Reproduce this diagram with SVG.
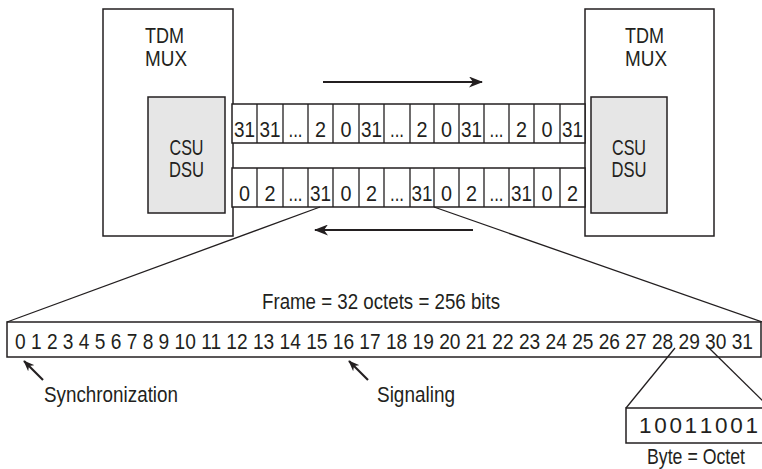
<svg xmlns="http://www.w3.org/2000/svg" width="762" height="469" viewBox="0 0 762 469">
<style>
text{font-family:"Liberation Sans Narrow","Liberation Sans",Arial,sans-serif;font-size:22.5px;fill:#231f20}
.c{text-anchor:middle}
.box{fill:#fff;stroke:#231f20;stroke-width:1.5}
.inner{fill:#e6e6e6;stroke:#231f20;stroke-width:1.5}
.ln{fill:none;stroke:#231f20;stroke-width:1.3}
.arr{fill:none;stroke:#231f20;stroke-width:2.2}
</style>
<defs>
<marker id="ah" viewBox="0 0 14 11" refX="13" refY="5.5" markerWidth="14" markerHeight="11" markerUnits="userSpaceOnUse" orient="auto">
<path d="M0,0 L14,5.5 L0,11 L4,5.5 Z" fill="#231f20"/>
</marker>
<marker id="ahs" viewBox="0 0 14 11" refX="13" refY="5.5" markerWidth="11" markerHeight="9" markerUnits="userSpaceOnUse" orient="auto">
<path d="M0,0 L14,5.5 L0,11 L4,5.5 Z" fill="#231f20"/>
</marker>
</defs>
<rect width="762" height="469" fill="#fff"/>

<g id="mux-left">
<rect class="box" x="103" y="9" width="130" height="227"/>
<text x="145" y="43" textLength="39" lengthAdjust="spacingAndGlyphs">TDM</text>
<text x="145" y="66" textLength="42" lengthAdjust="spacingAndGlyphs">MUX</text>
<rect class="inner" x="148" y="97" width="77" height="116"/>
<text class="c" x="186.5" y="155" textLength="34" lengthAdjust="spacingAndGlyphs">CSU</text>
<text class="c" x="186.5" y="177" textLength="35" lengthAdjust="spacingAndGlyphs">DSU</text>
</g>

<g id="mux-right">
<rect class="box" x="585" y="9" width="129" height="227"/>
<text x="625" y="43" textLength="39" lengthAdjust="spacingAndGlyphs">TDM</text>
<text x="625" y="66" textLength="42" lengthAdjust="spacingAndGlyphs">MUX</text>
<rect class="inner" x="591" y="97" width="76" height="116"/>
<text class="c" x="629" y="155" textLength="34" lengthAdjust="spacingAndGlyphs">CSU</text>
<text class="c" x="629" y="177" textLength="35" lengthAdjust="spacingAndGlyphs">DSU</text>
</g>

<g id="cells-top">
<rect class="box" x="232" y="104" width="353" height="39"/>
<path class="ln" stroke-width="1.5" d="M257,104V143M283,104V143M308,104V143M333,104V143M359,104V143M384,104V143M410,104V143M434,104V143M459,104V143M484,104V143M509,104V143M534,104V143M560,104V143"/>
<text class="c" x="244.5" y="137" textLength="21" lengthAdjust="spacingAndGlyphs">31</text>
<text class="c" x="270" y="137" textLength="21" lengthAdjust="spacingAndGlyphs">31</text>
<text class="c" x="295.5" y="137" textLength="14" lengthAdjust="spacingAndGlyphs">...</text>
<text class="c" x="320.5" y="137" textLength="11" lengthAdjust="spacingAndGlyphs">2</text>
<text class="c" x="346" y="137" textLength="11" lengthAdjust="spacingAndGlyphs">0</text>
<text class="c" x="371.5" y="137" textLength="21" lengthAdjust="spacingAndGlyphs">31</text>
<text class="c" x="397" y="137" textLength="14" lengthAdjust="spacingAndGlyphs">...</text>
<text class="c" x="422" y="137" textLength="11" lengthAdjust="spacingAndGlyphs">2</text>
<text class="c" x="446.5" y="137" textLength="11" lengthAdjust="spacingAndGlyphs">0</text>
<text class="c" x="471.5" y="137" textLength="21" lengthAdjust="spacingAndGlyphs">31</text>
<text class="c" x="496.5" y="137" textLength="14" lengthAdjust="spacingAndGlyphs">...</text>
<text class="c" x="521.5" y="137" textLength="11" lengthAdjust="spacingAndGlyphs">2</text>
<text class="c" x="547" y="137" textLength="11" lengthAdjust="spacingAndGlyphs">0</text>
<text class="c" x="572.5" y="137" textLength="21" lengthAdjust="spacingAndGlyphs">31</text>
</g>

<g id="cells-bottom">
<rect class="box" x="232" y="168" width="353" height="39"/>
<path class="ln" stroke-width="1.5" d="M257,168V207M283,168V207M308,168V207M333,168V207M359,168V207M384,168V207M410,168V207M434,168V207M459,168V207M484,168V207M509,168V207M534,168V207M560,168V207"/>
<text class="c" x="244.5" y="201" textLength="11" lengthAdjust="spacingAndGlyphs">0</text>
<text class="c" x="270" y="201" textLength="11" lengthAdjust="spacingAndGlyphs">2</text>
<text class="c" x="295.5" y="201" textLength="14" lengthAdjust="spacingAndGlyphs">...</text>
<text class="c" x="320.5" y="201" textLength="21" lengthAdjust="spacingAndGlyphs">31</text>
<text class="c" x="346" y="201" textLength="11" lengthAdjust="spacingAndGlyphs">0</text>
<text class="c" x="371.5" y="201" textLength="11" lengthAdjust="spacingAndGlyphs">2</text>
<text class="c" x="397" y="201" textLength="14" lengthAdjust="spacingAndGlyphs">...</text>
<text class="c" x="422" y="201" textLength="21" lengthAdjust="spacingAndGlyphs">31</text>
<text class="c" x="446.5" y="201" textLength="11" lengthAdjust="spacingAndGlyphs">0</text>
<text class="c" x="471.5" y="201" textLength="11" lengthAdjust="spacingAndGlyphs">2</text>
<text class="c" x="496.5" y="201" textLength="14" lengthAdjust="spacingAndGlyphs">...</text>
<text class="c" x="521.5" y="201" textLength="21" lengthAdjust="spacingAndGlyphs">31</text>
<text class="c" x="547" y="201" textLength="11" lengthAdjust="spacingAndGlyphs">0</text>
<text class="c" x="572.5" y="201" textLength="11" lengthAdjust="spacingAndGlyphs">2</text>
</g>

<g id="frame">
<text x="262" y="309" textLength="238" lengthAdjust="spacingAndGlyphs">Frame = 32 octets = 256 bits</text>
<rect class="box" x="7" y="322" width="754" height="35"/>
<text x="15" y="349" textLength="738" lengthAdjust="spacingAndGlyphs">0 1 2 3 4 5 6 7 8 9 10 11 12 13 14 15 16 17 18 19 20 21 22 23 24 25 26 27 28 29 30 31</text>
</g>

<g id="sync-label">
<text x="44" y="402" textLength="134" lengthAdjust="spacingAndGlyphs">Synchronization</text>
</g>
<g id="signal-label">
<text x="377" y="402" textLength="78" lengthAdjust="spacingAndGlyphs">Signaling</text>
</g>

<g id="byte">
<rect class="box" x="626" y="408" width="150" height="35"/>
<text x="639 654.2 669.4 684.6 699.8 715 730.2 745.4" y="433">10011001</text>
<text x="647" y="464" textLength="98" lengthAdjust="spacingAndGlyphs">Byte = Octet</text>
</g>

<g id="connectors">
<line class="arr" x1="323" y1="82" x2="482" y2="82" marker-end="url(#ah)"/>
<line class="arr" x1="473" y1="230" x2="315" y2="230" marker-end="url(#ah)"/>
<line class="ln" x1="7" y1="322" x2="320" y2="207"/>
<line class="ln" x1="434" y1="207" x2="762" y2="322"/>
<line class="ln" x1="675" y1="348" x2="626" y2="408"/>
<line class="ln" x1="708" y1="347" x2="770" y2="408"/>
<line class="arr" x1="43" y1="380" x2="24" y2="361" marker-end="url(#ahs)"/>
<line class="arr" x1="368" y1="380" x2="349" y2="361" marker-end="url(#ahs)"/>
</g>
</svg>
